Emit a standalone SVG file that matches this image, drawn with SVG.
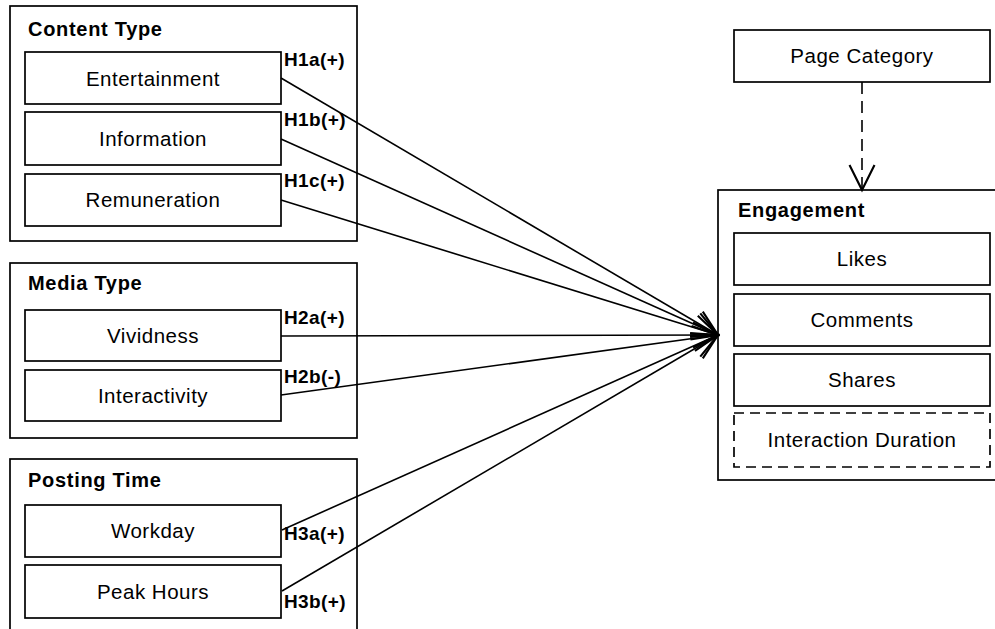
<svg xmlns="http://www.w3.org/2000/svg" width="995" height="629" viewBox="0 0 995 629">
<style>
.box{fill:#fff;stroke:#000;stroke-width:1.7}
.dbox{fill:#fff;stroke:#000;stroke-width:1.7;stroke-dasharray:10 6}
.lbl{font-family:"Liberation Sans",Arial,sans-serif;font-size:20.5px;letter-spacing:0.5px;text-anchor:middle;fill:#000}
.ttl{font-family:"Liberation Sans",Arial,sans-serif;font-size:20px;font-weight:bold;letter-spacing:0.7px;fill:#000}
.hyp{font-family:"Liberation Sans",Arial,sans-serif;font-size:19px;font-weight:bold;letter-spacing:0.4px;fill:#000}
.conn{fill:none;stroke:#000;stroke-width:1.6}
</style>
<defs>
<marker id="arr" markerUnits="userSpaceOnUse" markerWidth="30" markerHeight="30" viewBox="-22 -12 24 24" refX="0" refY="0" orient="auto">
<path d="M-20,-10 L0,0 L-20,10" fill="none" stroke="#000" stroke-width="1.7"/>
</marker>
</defs>
<g id="content-type">
<rect class="box" x="10" y="6" width="347" height="235"/>
<text class="ttl" x="28" y="36">Content Type</text>
<g id="entertainment"><rect class="box" x="25" y="52" width="256" height="52"/><text class="lbl" x="153" y="86">Entertainment</text></g>
<g id="information"><rect class="box" x="25" y="112" width="256" height="53"/><text class="lbl" x="153" y="146">Information</text></g>
<g id="remuneration"><rect class="box" x="25" y="174" width="256" height="52"/><text class="lbl" x="153" y="207">Remuneration</text></g>
</g>
<g id="media-type">
<rect class="box" x="10" y="263" width="347" height="175"/>
<text class="ttl" x="28" y="290">Media Type</text>
<g id="vividness"><rect class="box" x="25" y="310" width="256" height="51"/><text class="lbl" x="153" y="343">Vividness</text></g>
<g id="interactivity"><rect class="box" x="25" y="370" width="256" height="51"/><text class="lbl" x="153" y="403">Interactivity</text></g>
</g>
<g id="posting-time">
<rect class="box" x="10" y="459" width="347" height="190"/>
<text class="ttl" x="28" y="487">Posting Time</text>
<g id="workday"><rect class="box" x="25" y="505" width="256" height="52"/><text class="lbl" x="153" y="538">Workday</text></g>
<g id="peak-hours"><rect class="box" x="25" y="565" width="256" height="53"/><text class="lbl" x="153" y="599">Peak Hours</text></g>
</g>
<g id="page-category">
<rect class="box" x="734" y="30" width="256" height="52"/>
<text class="lbl" x="862" y="63">Page Category</text>
</g>
<g id="engagement">
<rect class="box" x="718" y="190" width="290" height="290"/>
<text class="ttl" x="738" y="217">Engagement</text>
<g id="likes"><rect class="box" x="734" y="233" width="256" height="52"/><text class="lbl" x="862" y="266">Likes</text></g>
<g id="comments"><rect class="box" x="734" y="294" width="256" height="52"/><text class="lbl" x="862" y="327">Comments</text></g>
<g id="shares"><rect class="box" x="734" y="354" width="256" height="52"/><text class="lbl" x="862" y="387">Shares</text></g>
<g id="interaction-duration"><rect class="dbox" x="734" y="413" width="256" height="54"/><text class="lbl" x="862" y="447">Interaction Duration</text></g>
</g>
<g id="connectors">
<line class="conn" x1="281" y1="78" x2="718" y2="335" marker-end="url(#arr)"/>
<line class="conn" x1="281" y1="139" x2="718" y2="335" marker-end="url(#arr)"/>
<line class="conn" x1="281" y1="200" x2="718" y2="335" marker-end="url(#arr)"/>
<line class="conn" x1="281" y1="336" x2="718" y2="335" marker-end="url(#arr)"/>
<line class="conn" x1="281" y1="395" x2="718" y2="335" marker-end="url(#arr)"/>
<line class="conn" x1="282" y1="530" x2="718" y2="335" marker-end="url(#arr)"/>
<line class="conn" x1="282" y1="591" x2="718" y2="335" marker-end="url(#arr)"/>
<line class="conn" x1="862" y1="82" x2="862" y2="190" stroke-dasharray="12 7" marker-end="url(#arr)"/>
</g>
<g id="labels">
<text class="hyp" x="284" y="66">H1a(+)</text>
<text class="hyp" x="284" y="126">H1b(+)</text>
<text class="hyp" x="284" y="187">H1c(+)</text>
<text class="hyp" x="284" y="324">H2a(+)</text>
<text class="hyp" x="284" y="383">H2b(-)</text>
<text class="hyp" x="284" y="540">H3a(+)</text>
<text class="hyp" x="284" y="608">H3b(+)</text>
</g>
</svg>
